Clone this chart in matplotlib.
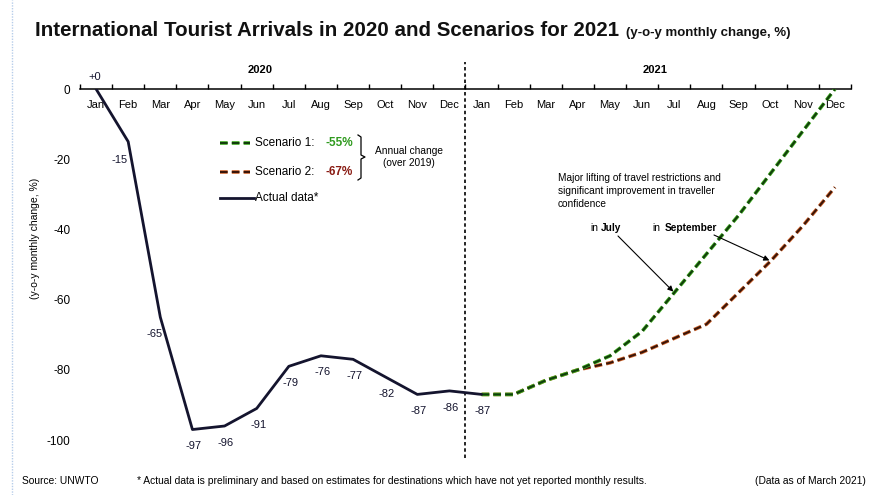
"""
International tourist arrivals 2020 + scenarios 2021 (UNWTO style chart)
"""

import numpy as np
import matplotlib.pyplot as plt
from matplotlib.lines import Line2D
from matplotlib.transforms import blended_transform_factory

plt.rcParams['font.family'] = ['Liberation Sans', 'DejaVu Sans']
plt.rcParams['lines.scale_dashes'] = False

months = ['Jan', 'Feb', 'Mar', 'Apr', 'May', 'Jun',
          'Jul', 'Aug', 'Sep', 'Oct', 'Nov', 'Dec']
tick_labels = months + months

# actual y-o-y change, Jan 2020 .. Jan 2021
actual = [0, -15, -65, -97, -96, -91, -79, -76, -77, -82, -87, -86, -87]
actual_labels = ['+0', '-15', '-65', '-97', '-96', '-91', '-79', '-76',
                 '-77', '-82', '-87', '-86', '-87']
# scenarios, Jan 2021 .. Dec 2021
scenario1 = [-87, -87, -83, -80, -76, -69, -58, -47, -36, -24, -12, 0]
scenario2 = [-87, -87, -83, -80, -78, -75, -71, -67, -58, -49, -39, -28]

c_actual = '#14142e'
c_s1_out, c_s1_in = '#3fae1f', '#123d0c'
c_s2_out, c_s2_in = '#d0652c', '#3a1508'
dash = (0, (5.5, 3))

W, H = 870, 495


def fx(px):
    return px / W


def fy(py):
    return 1 - py / H


fig = plt.figure(figsize=(8.7, 4.95), dpi=100)
ax = fig.add_axes([fx(80), fy(457.6), fx(851) - fx(80), fy(89) - fy(457.6)])

x_act = np.arange(len(actual))
x_scen = np.arange(12, 24)

for ys, co, ci in [(scenario2, c_s2_out, c_s2_in), (scenario1, c_s1_out, c_s1_in)]:
    ax.plot(x_scen, ys, color=co, lw=2.6, ls=dash, zorder=3)
    ax.plot(x_scen, ys, color=ci, lw=1.5, ls=dash, zorder=3)
ax.plot(x_act, actual, color=c_actual, lw=2, zorder=4, solid_capstyle='round')

# point labels
for i, (v, lab) in enumerate(zip(actual, actual_labels)):
    if i == 0:
        off = (-1, 9)
    elif i == 1:
        off = (-6, -13)
    elif i == 2:
        off = (-4, -12)
    else:
        off = (1, -12)
    ax.annotate(lab, (i, v), xytext=off, textcoords='offset points',
                ha='center', va='center', fontsize=8, color=c_actual,
                annotation_clip=False)

ax.set_xlim(-0.5, 23.5)
ax.set_ylim(-105, 0)
ax.set_yticks([0, -20, -40, -60, -80, -100])
ax.set_yticklabels(['0', '-20', '-40', '-60', '-80', '-100'])

for s in ['left', 'right', 'bottom']:
    ax.spines[s].set_visible(False)
ax.spines['top'].set_linewidth(1.1)

ax.xaxis.set_ticks_position('top')
ax.set_xticks(np.arange(24))
ax.set_xticklabels(tick_labels)
ax.set_xticks(np.arange(-0.5, 24, 1), minor=True)
ax.tick_params(axis='x', which='major', length=0, pad=-15, labelsize=8,
               top=True, labeltop=True, bottom=False, labelbottom=False)
ax.tick_params(axis='x', which='minor', length=3.5, width=1, direction='out',
               top=True, bottom=False)
ax.tick_params(axis='y', length=0, pad=7, labelsize=8.5)

# divider between years
trans = blended_transform_factory(ax.transData, ax.transAxes)
ax.plot([11.5, 11.5], [0, 1.073], transform=trans, color='black', lw=1.2,
        ls=(0, (2.5, 2)), clip_on=False)
ax.text(5.1, 1.052, '2020', transform=trans, ha='center', va='center',
        fontsize=8, fontweight='bold')
ax.text(17.4, 1.052, '2021', transform=trans, ha='center', va='center',
        fontsize=8, fontweight='bold')

# legend drawn by hand
for py, cols, ls, x1 in [(143, (c_s1_out, c_s1_in), dash, 250),
                         (172, (c_s2_out, c_s2_in), dash, 250)]:
    for col, lw in zip(cols, (2.6, 1.5)):
        fig.add_artist(Line2D([fx(220), fx(x1)], [fy(py), fy(py)], color=col,
                              lw=lw, ls=ls))
fig.add_artist(Line2D([fx(220), fx(254)], [fy(198), fy(198)], color=c_actual,
                      lw=2))
fig.text(fx(255), fy(143), 'Scenario 1:', fontsize=8.5, va='center')
fig.text(fx(326), fy(143), '-55%', fontsize=8.5, va='center',
         fontweight='bold', color='#2f9a1e')
fig.text(fx(255), fy(172), 'Scenario 2:', fontsize=8.5, va='center')
fig.text(fx(326), fy(172), '-67%', fontsize=8.5, va='center',
         fontweight='bold', color='#8a1c14')
fig.text(fx(255), fy(198), 'Actual data*', fontsize=8.5, va='center')

bx = [358, 361, 361, 365, 361, 361, 358]
by = [135, 137, 155, 157, 159, 178, 180]
fig.add_artist(Line2D([fx(v) for v in bx], [fy(v) for v in by],
                      color='black', lw=0.9))
fig.text(fx(409), fy(157), 'Annual change\n(over 2019)', fontsize=7.3,
         ha='center', va='center', linespacing=1.15)

# scenario annotation
fig.text(fx(558), fy(173), 'Major lifting of travel restrictions and\n'
         'significant improvement in traveller\nconfidence',
         fontsize=7.3, va='top', linespacing=1.35)
fig.text(fx(590), fy(228), 'in', fontsize=7.3, va='center')
fig.text(fx(601), fy(228), 'July', fontsize=7.3, va='center', fontweight='bold')
fig.text(fx(652), fy(228), 'in', fontsize=7.3, va='center')
fig.text(fx(665), fy(228), 'September', fontsize=7.3, va='center',
         fontweight='bold')

arrow = dict(arrowstyle='-|>', color='black', lw=0.8, mutation_scale=8,
             shrinkA=0, shrinkB=1)
ax.annotate('', xy=(18, scenario1[6]), xytext=(fx(618), fy(236)),
            textcoords='figure fraction', arrowprops=arrow)
ax.annotate('', xy=(21, scenario2[9]), xytext=(fx(714), fy(235)),
            textcoords='figure fraction', arrowprops=arrow)

# axis label
fig.text(fx(35), fy(238), '(y-o-y monthly change, %)', rotation=90,
         fontsize=7.5, ha='center', va='center')

# title
t = fig.text(fx(35), fy(36), 'International Tourist Arrivals in 2020 and '
             'Scenarios for 2021', fontsize=14.8, fontweight='bold',
             va='baseline', color='#111111')
fig.canvas.draw()
bb = t.get_window_extent()
fig.text((bb.x1 + 7) / W, fy(36), '(y-o-y monthly change, %)', fontsize=9.5,
         fontweight='bold', va='baseline', color='#111111')

# footer
fig.text(fx(22), fy(481), 'Source: UNWTO', fontsize=7.4, va='center')
fig.text(fx(137), fy(481), '* Actual data is preliminary and based on '
         'estimates for destinations which have not yet reported monthly '
         'results.', fontsize=7.4, va='center')
fig.text(fx(866), fy(481), '(Data as of March 2021)', fontsize=7.4,
         va='center', ha='right')

# thin light-blue frame edge on the left
fig.add_artist(Line2D([fx(12), fx(12)], [0, 1], color='#b7cdea', lw=1,
                      ls=(0, (1, 1))))

plt.savefig('out.png', dpi=100)
